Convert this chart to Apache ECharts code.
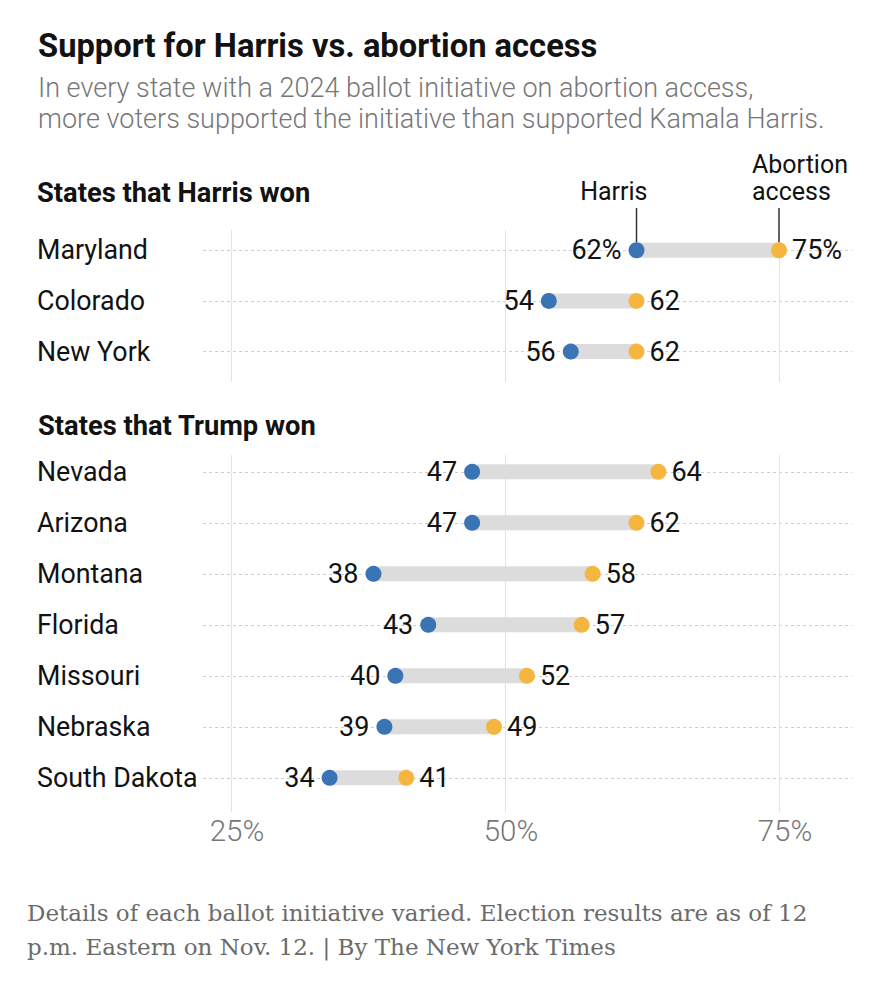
<!DOCTYPE html>
<html><head><meta charset="utf-8">
<script src="https://cdn.jsdelivr.net/npm/echarts@6/dist/echarts.min.js"></script>
<style>html,body{margin:0;padding:0;background:#fff}#chart{width:878px;height:996px}</style>
</head><body><div id="chart"></div>
<script>
// ---- data ----
const harrisWonStates = ['Maryland', 'Colorado', 'New York'];
const harrisWonHarris = [62, 54, 56];
const harrisWonAbortion = [75, 62, 62];
const trumpWonStates = ['Nevada', 'Arizona', 'Montana', 'Florida', 'Missouri', 'Nebraska', 'South Dakota'];
const trumpWonHarris = [47, 47, 38, 43, 40, 39, 34];
const trumpWonAbortion = [64, 62, 58, 57, 52, 49, 41];
const xTickValues = [25, 50, 75];

// ---- styles ----
const FONT = 'Roboto, "Liberation Sans", sans-serif';
const INK = '#121212';
const BLUE = '#3a74b5';
const ORANGE = '#f4b63f';
const BAR = '#dcdcdc';

const chart = echarts.init(document.getElementById('chart'), null, {renderer: 'svg'});

function idx(arr) { return arr.map((_, i) => i); }

function renderBar(params, api) {
  const y = api.value(2);
  const p1 = api.coord([api.value(0), y]);
  const p2 = api.coord([api.value(1), y]);
  return {
    type: 'line',
    shape: {x1: p1[0], y1: p1[1], x2: p2[0], y2: p2[1]},
    style: {stroke: BAR, lineWidth: 15}
  };
}

function xAxisCfg(gridIndex, showLabels) {
  return {
    type: 'value', gridIndex, min: 22.45, max: 81.66,
    axisLine: {show: false},
    axisTick: {show: false, customValues: xTickValues},
    splitLine: {show: true, lineStyle: {color: '#e3e3e3', width: 1}},
    axisLabel: showLabels ? {
      show: true, customValues: xTickValues, formatter: '{value}%',
      fontSize: 29.5, fontWeight: 300, fontFamily: FONT, color: '#777777',
      margin: 4, padding: [0, 0, 0, 12]
    } : {show: false}
  };
}

function yAxisCfg(gridIndex, names, min, max) {
  const ticks = idx(names);
  return {
    type: 'value', gridIndex, inverse: true, min, max,
    axisLine: {show: false},
    axisTick: {show: false, customValues: ticks},
    splitLine: {show: true, lineStyle: {color: '#cdcdcd', width: 1, type: [3, 3]}},
    axisLabel: {
      customValues: ticks, formatter: v => names[Math.round(v)],
      align: 'left', margin: 166, fontSize: 26.8, fontFamily: FONT, color: INK
    }
  };
}

function seriesFor(k, harris, abortion, pctFirst) {
  return [
    {
      type: 'custom', xAxisIndex: k, yAxisIndex: k, renderItem: renderBar,
      encode: {x: [0, 1], y: 2}, silent: true,
      data: harris.map((h, i) => [h, abortion[i], i]), z: 2
    },
    {
      type: 'scatter', xAxisIndex: k, yAxisIndex: k, symbolSize: 16, z: 3,
      itemStyle: {color: BLUE, opacity: 1},
      data: harris.map((h, i) => [h, i]),
      label: {
        show: true, position: 'left', distance: 7, fontSize: 27, fontFamily: FONT, color: INK,
        formatter: p => p.value[0] + (pctFirst && p.dataIndex === 0 ? '%' : '')
      }
    },
    {
      type: 'scatter', xAxisIndex: k, yAxisIndex: k, symbolSize: 16, z: 3,
      itemStyle: {color: ORANGE, opacity: 1},
      data: abortion.map((a, i) => [a, i]),
      label: {
        show: true, position: 'right', distance: 5, fontSize: 27, fontFamily: FONT, color: INK,
        formatter: p => p.value[0] + (pctFirst && p.dataIndex === 0 ? '%' : '')
      }
    }
  ];
}

chart.setOption({
  animation: false,
  backgroundColor: '#ffffff',
  grid: [
    {left: 203, width: 649, top: 230, height: 152},
    {left: 203, width: 649, top: 455, height: 357}
  ],
  xAxis: [xAxisCfg(0, false), xAxisCfg(1, true)],
  yAxis: [
    yAxisCfg(0, harrisWonStates, -0.4, 2.6),
    yAxisCfg(1, trumpWonStates, -0.33, 6.67)
  ],
  series: [
    ...seriesFor(0, harrisWonHarris, harrisWonAbortion, true),
    ...seriesFor(1, trumpWonHarris, trumpWonAbortion, false)
  ]
});

// annotations positioned from the library's own scale
const pH = chart.convertToPixel({xAxisIndex: 0, yAxisIndex: 0}, [harrisWonHarris[0], 0]);
const pA = chart.convertToPixel({xAxisIndex: 0, yAxisIndex: 0}, [harrisWonAbortion[0], 0]);

function txt(x, y, text, size, weight, color, family, extra) {
  return {
    type: 'text', x, y, silent: true,
    style: Object.assign({
      text, fontSize: size, fontWeight: weight, fontFamily: family || FONT, fill: color,
      align: 'left', verticalAlign: 'middle'
    }, extra || {})
  };
}

chart.setOption({
  graphic: [
    txt(38, 46, 'Support for Harris vs. abortion access', 32.7, 'bold', INK),
    txt(38, 72, 'In every state with a 2024 ballot initiative on abortion access,\nmore voters supported the initiative than supported Kamala Harris.',
        27, 300, '#777777', FONT, {verticalAlign: 'top', lineHeight: 31}),
    txt(37, 193, 'States that Harris won', 27.3, 'bold', INK),
    txt(38, 426, 'States that Trump won', 27.3, 'bold', INK),
    txt(pH[0] + 11, 191, 'Harris', 25, 'normal', INK, FONT, {align: 'right'}),
    txt(pA[0] - 27, 150.5, 'Abortion\naccess', 25, 'normal', INK, FONT, {verticalAlign: 'top', lineHeight: 27}),
    {type: 'line', silent: true, shape: {x1: pH[0], y1: 208, x2: pH[0], y2: pH[1] - 8}, style: {stroke: '#333', lineWidth: 1.5}},
    {type: 'line', silent: true, shape: {x1: pA[0], y1: 208, x2: pA[0], y2: pA[1] - 8}, style: {stroke: '#333', lineWidth: 1.5}},
    txt(27, 896, 'Details of each ballot initiative varied. Election results are as of 12\np.m. Eastern on Nov. 12. | By The New York Times',
        23, 'normal', '#6b6b6b', '"DejaVu Serif", serif', {verticalAlign: 'top', lineHeight: 34})
  ]
});
</script>
</body></html>
